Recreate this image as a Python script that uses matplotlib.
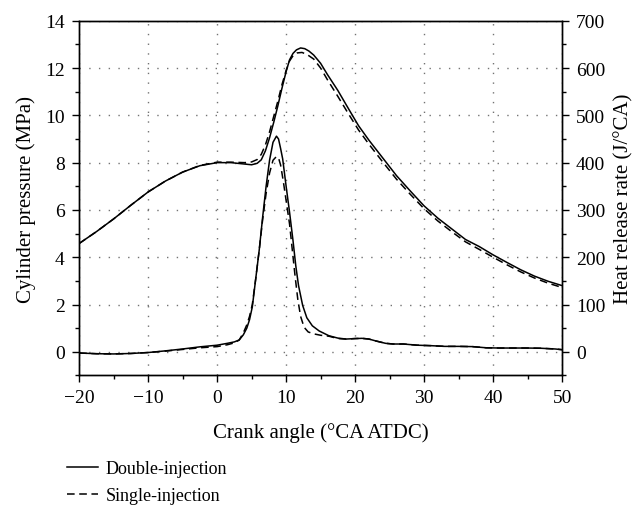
import matplotlib
matplotlib.use("Agg")
import matplotlib.pyplot as plt
from matplotlib.ticker import MultipleLocator

plt.rcParams['font.family'] = ['Liberation Serif', 'DejaVu Serif']
plt.rcParams['font.size'] = 13

# cylinder pressure (MPa)
p_ca_double = [-20, -17.5, -15, -12.5, -10, -7.5, -5, -2.5, 0, 2, 4, 5, 5.8, 6.4, 7.0, 7.6,
               8.2, 8.8, 9.4, 10.0, 10.5, 11.0, 11.5, 12.1, 12.7, 13.3, 14, 15, 16, 17.5,
               19, 20.5, 22, 24, 26, 28, 30, 32, 34, 36, 38, 40, 42, 44, 46, 48, 50]
p_double = [4.58, 5.08, 5.62, 6.2, 6.76, 7.22, 7.6, 7.87, 8.0, 8.0, 7.94, 7.91, 7.97, 8.12, 8.5, 9.05,
            9.7, 10.4, 11.15, 11.85, 12.35, 12.62, 12.77, 12.85, 12.82, 12.72, 12.55, 12.2, 11.72, 11.05,
            10.3, 9.56, 8.95, 8.2, 7.45, 6.8, 6.17, 5.65, 5.2, 4.75, 4.45, 4.1, 3.78, 3.47, 3.2, 2.98, 2.8]

p_ca_single = [-20, -17.5, -15, -12.5, -10, -7.5, -5, -2.5, 0, 2, 4, 5, 5.8, 6.4, 7.0, 7.6,
               8.2, 8.8, 9.4, 10.0, 10.5, 11.0, 11.6, 12.3, 13.0, 14, 15, 16, 17.5,
               19, 20.5, 22, 24, 26, 28, 30, 32, 34, 36, 38, 40, 42, 44, 46, 48, 50]
p_single = [4.58, 5.08, 5.62, 6.2, 6.76, 7.22, 7.6, 7.88, 8.02, 8.02, 8.0, 8.03, 8.13, 8.35, 8.75, 9.3,
            9.95, 10.6, 11.3, 11.9, 12.3, 12.52, 12.64, 12.66, 12.58, 12.38, 12.0, 11.5, 10.8,
            10.08, 9.38, 8.78, 8.03, 7.3, 6.66, 6.05, 5.53, 5.08, 4.65, 4.33, 4.0, 3.68, 3.38, 3.12, 2.9, 2.72]

# heat release rate (J/°CA)
h_ca_double = [-20, -17.5, -15, -12.5, -10, -7.5, -5, -2.5, 0, 1.5, 2.5, 3.2, 3.8, 4.3, 4.7, 5.1,
               5.6, 6.1, 6.6, 7.1, 7.6, 8.1, 8.6, 8.9, 9.2, 9.5, 10.0, 10.5, 11.0, 11.4, 11.8,
               12.4, 13.0, 13.8, 14.8, 16.2, 17.5, 18.7, 20.0, 21.0, 22.0, 23.0, 24.4, 25.5,
               27, 29, 31, 33, 35, 37, 39, 41, 43, 45, 47, 49, 50]
h_double = [-2.5, -4, -4.5, -3.5, -1.5, 2, 6, 10.5, 14, 18, 21, 25, 36, 50, 68, 95,
            155, 215, 285, 350, 405, 443, 456, 450, 430, 408, 350, 295, 235, 182, 140,
            98, 72, 55, 44, 34, 29, 27, 28, 28.5, 27, 23, 18, 16.5,
            16.5, 14, 13, 11.5, 11.5, 11, 8.5, 8, 8, 8, 7.5, 6, 4.5]

h_ca_single = [-20, -17.5, -15, -12.5, -10, -7.5, -5, -2.5, 0, 1.5, 2.5, 3.2, 3.8, 4.3, 4.7, 5.1,
               5.6, 6.1, 6.6, 7.1, 7.6, 8.1, 8.6, 8.9, 9.2, 9.6, 10.0, 10.5, 10.9, 11.3, 11.7,
               12.1, 12.6, 13.2, 14, 15, 16.2, 17.5, 18.7, 20.0, 21.0, 22.0, 23.0, 24.4, 25.5,
               27, 29, 31, 33, 35, 37, 39, 41, 43, 45, 47, 49, 50]
h_single = [-2.5, -4, -4.5, -3.5, -1.5, 1.5, 5, 8.5, 11, 15, 19, 25, 40, 57, 75, 100,
            155, 215, 280, 335, 378, 405, 413, 410, 395, 360, 320, 270, 215, 160, 110,
            75, 52, 42, 38, 35, 33, 28, 27, 28, 28.5, 27, 23, 18, 16.5,
            16.5, 14, 13, 11.5, 11.5, 11, 8.5, 8, 8, 8, 7.5, 6, 4.5]

fig = plt.figure(figsize=(6.33, 5.06), dpi=100)
ax = fig.add_axes([0.125, 0.256, 0.763, 0.701])
ax2 = ax.twinx()

ax.plot(p_ca_double, p_double, color='k', lw=1.1, label='Double-injection')
ax.plot(p_ca_single, p_single, color='k', lw=1.1, ls=(0, (5, 3)), label='Single-injection')
ax2.plot(h_ca_double, h_double, color='k', lw=1.1)
ax2.plot(h_ca_single, h_single, color='k', lw=1.1, ls=(0, (5, 3)))

ax.set_xlim(-20, 50)
ax.set_ylim(-1, 14)
ax2.set_ylim(-50, 700)

ax.xaxis.set_major_locator(MultipleLocator(10))
ax.xaxis.set_minor_locator(MultipleLocator(5))
ax.yaxis.set_major_locator(MultipleLocator(2))
ax.yaxis.set_minor_locator(MultipleLocator(1))
ax2.yaxis.set_major_locator(MultipleLocator(100))
ax2.yaxis.set_minor_locator(MultipleLocator(50))
ax.set_yticks(range(0, 15, 2))
ax2.set_yticks(range(0, 701, 100))

for a in (ax, ax2):
    a.tick_params(which='major', direction='out', length=5, width=1, labelsize=14)
    a.tick_params(which='minor', direction='out', length=3, width=1)
    for s in a.spines.values():
        s.set_linewidth(1.0)
ax.tick_params(top=False, right=False, which='both')
ax2.tick_params(top=False, left=False, which='both')
ax.tick_params(axis='y', which='major', pad=5.5)
ax.tick_params(axis='x', which='major', pad=4.5)
ax2.tick_params(axis='y', which='major', pad=5)

ax.grid(True, which='major', color='0.45', ls=(0, (1, 6)), lw=1.0)

ax.set_xlabel('Crank angle (°CA ATDC)', fontsize=15, labelpad=12)
ax.set_ylabel('Cylinder pressure (MPa)', fontsize=15, labelpad=6)
ax2.set_ylabel('Heat release rate (J/°CA)', fontsize=15, labelpad=6)

xt = ['\u2212' + str(-v) if v < 0 else str(v) for v in range(-20, 51, 10)]
ax.set_xticks(range(-20, 51, 10))
ax.set_xticklabels(xt)

fig.legend(loc='upper left', bbox_to_anchor=(0.106, 0.089), frameon=False,
           fontsize=13, handlelength=1.7, handletextpad=0.45, labelspacing=0.55,
           borderpad=0, borderaxespad=0)

fig.savefig('out.png', dpi=100)
